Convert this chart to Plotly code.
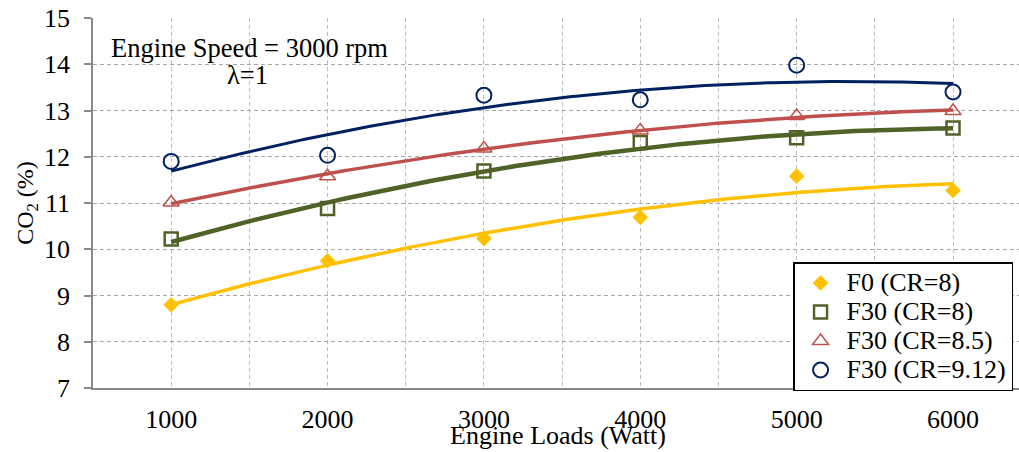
import numpy as np
import plotly.graph_objects as go

# ---- data ----
loads = [1000, 2000, 3000, 4000, 5000, 6000]
f0_cr8 = [8.80, 9.75, 10.23, 10.69, 11.58, 11.27]
f30_cr8 = [10.22, 10.88, 11.69, 12.31, 12.41, 12.62]
f30_cr85 = [11.01, 11.58, 12.18, 12.57, 12.88, 12.99]
f30_cr912 = [11.90, 12.03, 13.33, 13.23, 13.98, 13.40]
series_names = ["F0 (CR=8)", "F30 (CR=8)", "F30 (CR=8.5)", "F30 (CR=9.12)"]
y_ticks = [7, 8, 9, 10, 11, 12, 13, 14, 15]

FONT = "'Liberation Serif', 'Times New Roman', 'DejaVu Serif', serif"

styles = [
    dict(color="#FFC000", symbol="diamond", size=12, mlw=0, lw=3.5),
    dict(color="#4F6228", symbol="square-open", size=13, mlw=2.5, lw=4.5),
    dict(color="#C0504D", symbol="triangle-up-open", size=14, mlw=1.5, lw=3.5),
    dict(color="#002060", symbol="circle-open", size=15, mlw=2, lw=3),
]
data = [f0_cr8, f30_cr8, f30_cr85, f30_cr912]

fig = go.Figure()

# polynomial (order 2) trendlines, as in the original chart
xd = np.linspace(min(loads), max(loads), 200)
for vals, st in zip(data, styles):
    coef = np.polyfit(loads, vals, 2)
    fig.add_trace(go.Scatter(x=xd, y=np.polyval(coef, xd), mode="lines",
                             line=dict(color=st["color"], width=st["lw"]),
                             showlegend=False, hoverinfo="skip"))

for vals, st, name in zip(data, styles, series_names):
    fig.add_trace(go.Scatter(x=loads, y=vals, mode="markers",
                             name='<span style="font-size:26px">' + name + '</span>',
                             marker=dict(symbol=st["symbol"], size=st["size"],
                                         color=st["color"],
                                         line=dict(color=st["color"], width=st["mlw"]))))

fig.update_layout(
    width=1019, height=452, autosize=False,
    margin=dict(l=93, r=0, t=18, b=64),
    paper_bgcolor="white", plot_bgcolor="white",
    font=dict(family=FONT, size=26, color="black"),
    showlegend=True,
    legend=dict(x=0.756, y=0.3405, xanchor="left", yanchor="top",
                bgcolor="white", bordercolor="black", borderwidth=1.5,
                font=dict(family=FONT, size=20, color="black"),
                itemwidth=42, tracegroupgap=0),
    annotations=[
        dict(text="Engine Speed = 3000 rpm", x=0.1695, y=0.919, xref="paper", yref="paper",
             xanchor="center", yanchor="middle", showarrow=False,
             font=dict(family=FONT, size=26.5, color="black")),
        dict(text="λ=1", x=0.1665, y=0.845, xref="paper", yref="paper",
             xanchor="center", yanchor="middle", showarrow=False,
             font=dict(family=FONT, size=26.5, color="black")),
        dict(text="Engine Loads (Watt)", x=0.502, y=-0.128, xref="paper", yref="paper",
             xanchor="center", yanchor="middle", showarrow=False,
             font=dict(family=FONT, size=26, color="black")),
    ],
)

fig.update_xaxes(
    range=[500, 6422], tickmode="array", tickvals=loads,
    ticks="", showline=True, linecolor="#898989", linewidth=1.5,
    showgrid=True, gridcolor="#BFBFBF", gridwidth=1, griddash="4px,3px",
    minor=dict(dtick=500, tick0=500, showgrid=True, gridcolor="#BFBFBF",
               gridwidth=1, griddash="4px,3px", ticks=""),
    zeroline=False, ticklabelstandoff=7, automargin=False,
    tickfont=dict(family=FONT, size=26, color="black"),
)
fig.update_yaxes(
    range=[7, 15], tickmode="array", tickvals=y_ticks,
    ticks="outside", ticklen=7, tickcolor="#898989", tickwidth=1.5,
    showline=True, linecolor="#898989", linewidth=1.5,
    showgrid=True, gridcolor="#A6A6A6", gridwidth=1, griddash="4px,3px",
    zeroline=False, ticklabelstandoff=9,
    tickfont=dict(family=FONT, size=26, color="black"),
    title=dict(text="CO<sub>2</sub> (%)", standoff=4,
               font=dict(family=FONT, size=24, color="black")),
    automargin=False,
)

fig.write_html("out.html", config={"displayModeBar": False},
               post_script="document.body.style.margin='0';document.body.style.overflow='hidden';")
